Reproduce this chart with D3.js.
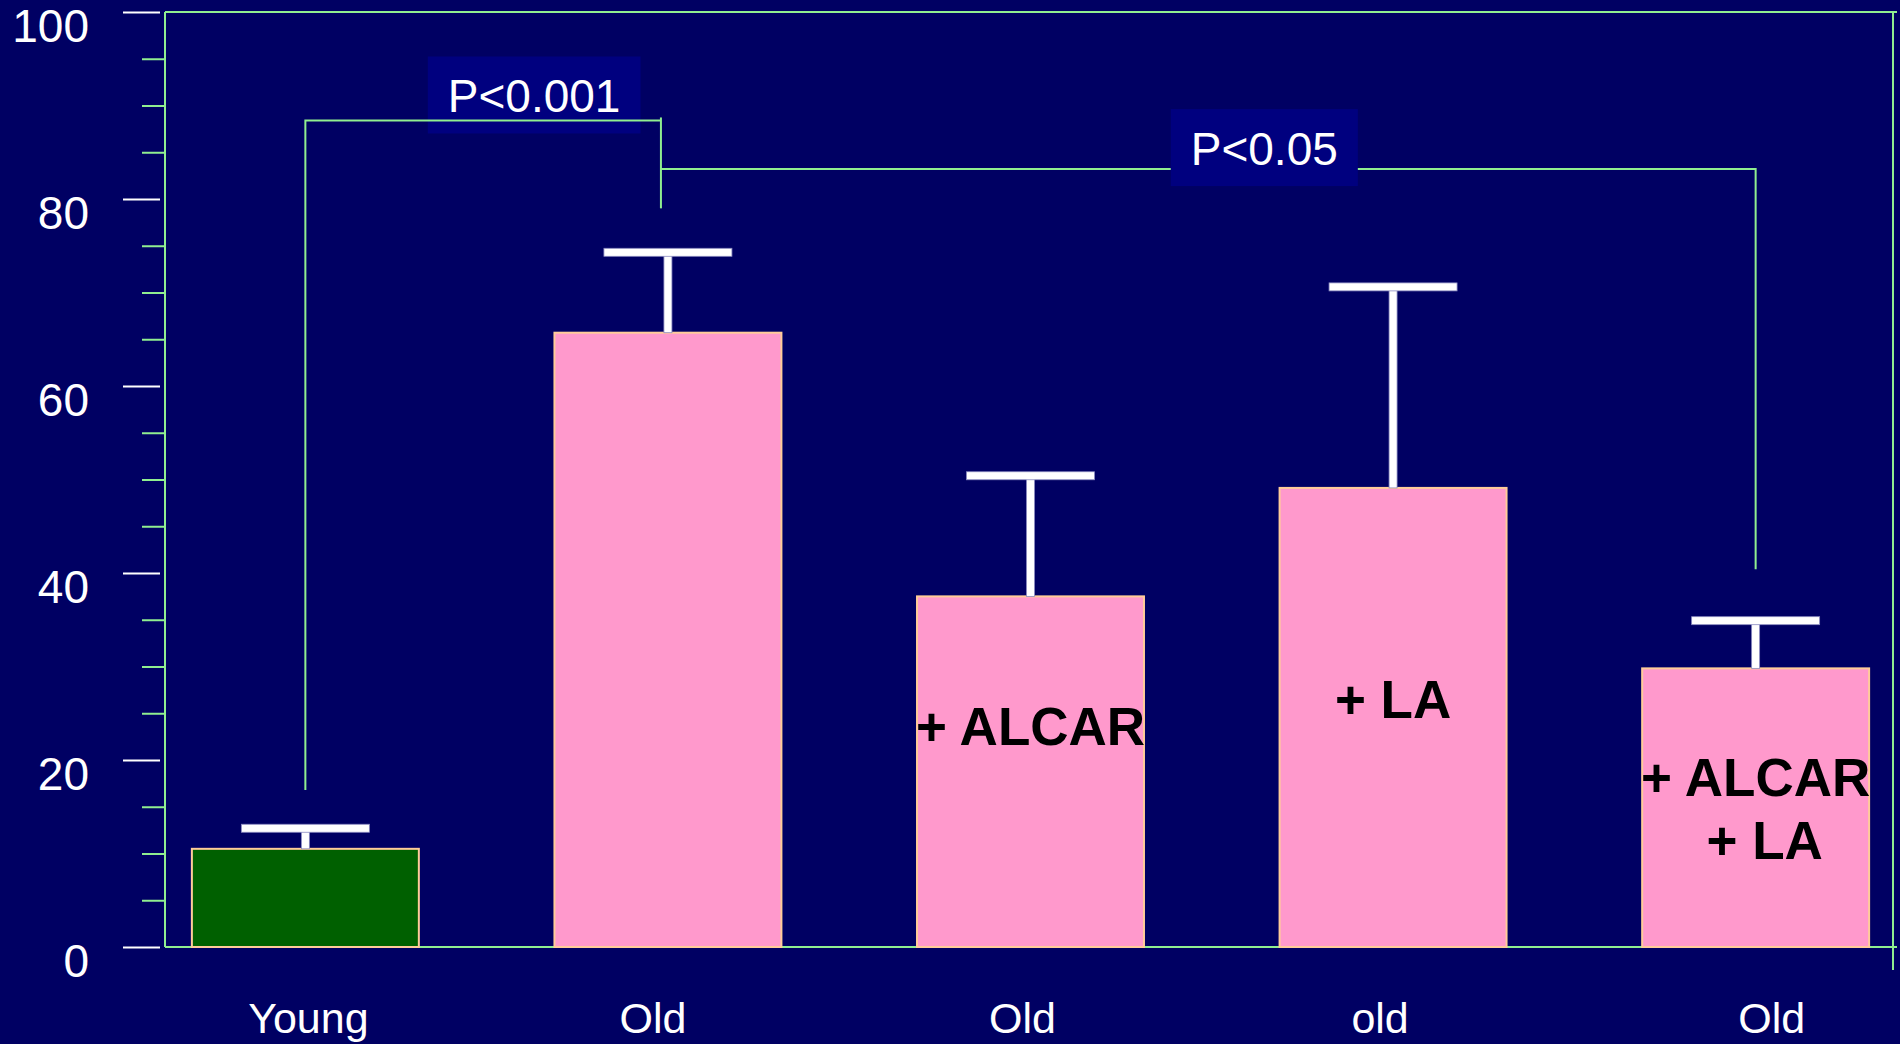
<!DOCTYPE html>
<html><head><meta charset="utf-8">
<script src="https://cdn.jsdelivr.net/npm/d3@7"></script>
<style>html,body{margin:0;padding:0;background:#000063;overflow:hidden}</style>
</head><body>
<svg id="chart" width="1900" height="1044"></svg>
<script>
// ---- data ----
const categories = ["Young", "Old", "Old", "old", "Old"];
const means = [10.5, 65.7, 37.5, 49.1, 29.8];
const errTops = [12.7, 74.3, 50.4, 70.6, 34.9];
const groups = ["young", "old", "old", "old", "old"];
const barTexts = [[], [], ["+ ALCAR"], ["+ LA"], ["+ ALCAR", "+ LA"]];
const yTicksMajor = [0, 20, 40, 60, 80, 100];
const yTicksMinor = [5, 10, 15, 25, 30, 35, 45, 50, 55, 65, 70, 75, 85, 90, 95];
const comparisons = [
  { from: 0, to: 1, label: "P<0.001" },
  { from: 1, to: 4, label: "P<0.05" }
];

// ---- layout / style ----
const W = 1900, H = 1044;
const pLeft = 165, pRight = 1893, pTop = 12, pBottom = 947;
const BG = "#000063", BOX = "#00007f", GREEN = "#90ee90";
const PINK = "#ff99cc", DKGREEN = "#006000", EDGE = "#ffcc99";
const FONT = "'Liberation Sans', Arial, Helvetica, sans-serif";
const barTextAnchor = [null, null, 21.6, 24.5, 16.1]; // value units (baseline of first line)
const barTextLineNudge = [0, 9];                      // px, horizontal nudge per line
const xLabelNudge = [3, -15, -8, -13, 16];            // px, label placement tweak
const bracketLevels = [88.4, 83.2];
const bracketDrops = [[16.8, 79.0], [null, 40.4]];

const svg = d3.select("#chart");
svg.append("rect").attr("width", W).attr("height", H).attr("fill", BG);

const x = d3.scaleBand().domain(d3.range(categories.length))
  .range([pLeft + 1.5, pRight + 1.5]).paddingInner(0.374).paddingOuter(0.07);
const y = d3.scaleLinear().domain([0, 100]).range([pBottom, pTop]);
const cx = i => x(i) + x.bandwidth() / 2;

// frame
const frame = svg.append("g").attr("stroke", GREEN).attr("stroke-width", 2).attr("fill", "none");
frame.append("line").attr("x1", pLeft).attr("x2", 1897).attr("y1", pTop).attr("y2", pTop);
frame.append("line").attr("x1", pRight).attr("x2", pRight).attr("y1", pTop).attr("y2", 970);

// minor ticks (green) + axis line
const yMinor = svg.append("g").attr("transform", `translate(${pLeft},0)`)
  .call(d3.axisLeft(y).tickValues(yTicksMinor).tickSize(23).tickFormat(""));
yMinor.selectAll("path.domain").remove();
yMinor.selectAll("line").attr("stroke", GREEN).attr("stroke-width", 2);
svg.append("line").attr("x1", pLeft).attr("x2", pLeft).attr("y1", pTop).attr("y2", pBottom)
  .attr("stroke", GREEN).attr("stroke-width", 2);

// major ticks (white) with labels
const yMajor = svg.append("g").attr("transform", `translate(160,0)`)
  .call(d3.axisLeft(y).tickValues(yTicksMajor).tickSize(37).tickPadding(34));
yMajor.selectAll("path.domain").remove();
yMajor.selectAll("line").attr("stroke", "#ffffff").attr("stroke-width", 2);
yMajor.selectAll("text").attr("fill", "#ffffff").attr("font-family", FONT)
  .attr("font-size", 46).attr("dy", 0).attr("y", 29);

// x axis baseline
svg.append("line").attr("x1", pLeft).attr("x2", 1897).attr("y1", pBottom).attr("y2", pBottom)
  .attr("stroke", GREEN).attr("stroke-width", 2);

// x labels
const xAxis = svg.append("g").attr("transform", `translate(0,${pBottom})`)
  .call(d3.axisBottom(x).tickSize(0).tickFormat(i => categories[i]));
xAxis.selectAll("path.domain").remove();
xAxis.selectAll("text").attr("fill", "#ffffff").attr("font-family", FONT)
  .attr("font-size", 43).attr("dy", 0).attr("y", 86)
  .attr("x", i => xLabelNudge[i]);

// bars
svg.append("g").selectAll("rect").data(means).join("rect")
  .attr("x", (d, i) => x(i)).attr("width", x.bandwidth())
  .attr("y", d => y(d)).attr("height", d => y(0) - y(d))
  .attr("fill", (d, i) => groups[i] === "young" ? DKGREEN : PINK)
  .attr("stroke", EDGE).attr("stroke-width", 2);

// error bars
const eb = svg.append("g").attr("fill", "#ffffff").attr("stroke", "#8a8ac0").attr("stroke-width", 0.8);
eb.selectAll("rect.stem").data(errTops).join("rect").attr("class", "stem")
  .attr("x", (d, i) => cx(i) - 4).attr("width", 8)
  .attr("y", d => y(d)).attr("height", (d, i) => y(means[i]) - y(d));
eb.selectAll("rect.cap").data(errTops).join("rect").attr("class", "cap")
  .attr("x", (d, i) => cx(i) - 64).attr("width", 128)
  .attr("y", d => y(d) - 4).attr("height", 8);

// bar texts
barTexts.forEach((lines, i) => {
  lines.forEach((t, k) => {
    svg.append("text").attr("x", cx(i) + barTextLineNudge[k]).attr("y", y(barTextAnchor[i]) + k * 63)
      .attr("text-anchor", "middle").attr("font-family", FONT).attr("font-weight", "bold")
      .attr("font-size", 53).attr("fill", "#000000").text(t);
  });
});

// significance brackets
function pBox(label, centerX, baseline) {
  const g = svg.append("g");
  const t = g.append("text").attr("x", centerX).attr("y", baseline).attr("text-anchor", "middle")
    .attr("font-family", FONT).attr("font-size", 46).attr("fill", "#ffffff").text(label);
  const bb = t.node().getBBox();
  g.insert("rect", "text").attr("x", bb.x - 20).attr("width", bb.width + 40)
    .attr("y", baseline - 56).attr("height", 77).attr("fill", BOX);
}
const lineStyle = sel => sel.attr("stroke", GREEN).attr("stroke-width", 2).attr("fill", "none");

// comparison 1 (box under the line)
{
  const c = comparisons[0];
  const x1 = cx(c.from), x2 = cx(c.to) - 7, ly = y(bracketLevels[0]);
  pBox(c.label, (x1 + x2) / 2 + 51, ly - 8);
  svg.append("path").call(lineStyle)
    .attr("d", `M${x1},${y(bracketDrops[0][0])}V${ly}H${x2}`);
  svg.append("line").call(lineStyle).attr("x1", x2).attr("x2", x2)
    .attr("y1", ly - 3).attr("y2", y(bracketDrops[0][1]));
}
// comparison 2 (box over the line)
{
  const c = comparisons[1];
  const x1 = cx(c.from) - 7, x2 = cx(c.to), ly = y(bracketLevels[1]);
  svg.append("path").call(lineStyle)
    .attr("d", `M${x1},${ly}H${x2}V${y(bracketDrops[1][1])}`);
  pBox(c.label, (x1 + x2) / 2 + 56, ly - 4);
}
</script>
</body></html>
